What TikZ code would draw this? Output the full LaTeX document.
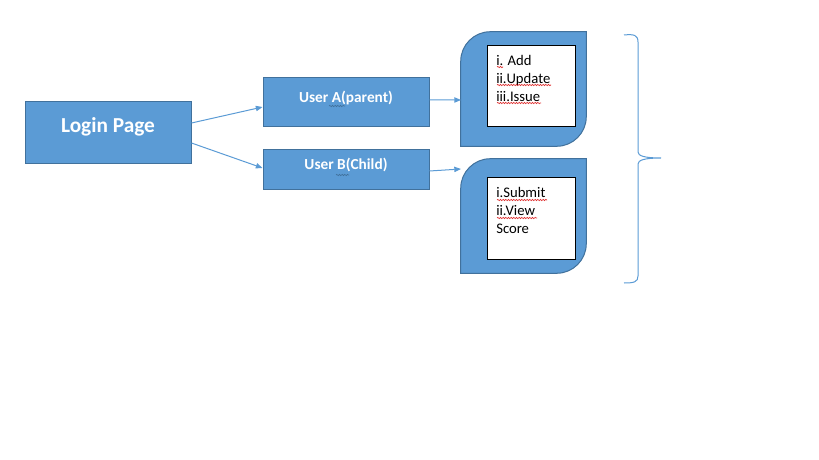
\documentclass[tikz,border=0pt]{standalone}
\usepackage{fontspec}
\setmainfont{Carlito}
\usetikzlibrary{arrows.meta,decorations.pathmorphing}
\definecolor{boxfill}{HTML}{5B9BD5}
\definecolor{boxline}{HTML}{41719C}
\definecolor{squig}{HTML}{E03030}

\begin{document}
\begin{tikzpicture}[x=0.75pt, y=-0.75pt,
  mainbox/.style={draw=boxline, fill=boxfill, text=white, font=\bfseries, line width=0.75pt,
    inner sep=0pt, text height=6pt, text depth=6pt},
  panel/.style={minimum width=93.75pt, minimum height=85.5pt, inner sep=0pt},
  listbox/.style={draw=black, fill=white, line width=0.75pt, minimum width=66pt, inner sep=0pt},
  listtext/.style={align=left, anchor=north west, inner sep=0pt, font=\fontsize{11pt}{13.5pt}\selectfont},
  link/.style={draw=boxfill, line width=0.75pt, -{Triangle[length=5pt,width=4pt]}},
  squiggle/.style={draw=#1, line width=0.5pt, decorate,
    decoration={snake, segment length=2pt, amplitude=0.5pt}}]
\useasboundingbox (0,0) rectangle (819,460);

% left part
\node[mainbox, minimum width=124.5pt, minimum height=46.5pt, font=\fontsize{16pt}{18pt}\bfseries] (login) at (108,133) {Login Page};
\node[mainbox, minimum width=124.5pt, minimum height=36.75pt, font=\fontsize{11.5pt}{13pt}\bfseries] (usera) at (346,102.5) {User A(parent)};
\node[mainbox, minimum width=124.5pt, minimum height=30pt, font=\fontsize{11.5pt}{13pt}\bfseries] (userb) at (346,170) {User B(Child)};

% right panels
\node[panel] (tasksa) at (523.5,89) {};
\node[panel] (tasksb) at (523.5,216) {};
\foreach \p in {tasksa,tasksb}
  \filldraw[draw=boxline, fill=boxfill, line width=0.75pt]
    (\p.south west) -- ([yshift=-22pt]\p.north west)
    .. controls ([yshift=-10pt]\p.north west) and ([xshift=10pt]\p.north west) .. ([xshift=22pt]\p.north west)
    -- (\p.north east) -- ([yshift=22pt]\p.south east)
    .. controls ([yshift=10pt]\p.south east) and ([xshift=-10pt]\p.south east) .. ([xshift=-22pt]\p.south east) -- cycle;

\node[listbox, minimum height=60.75pt] (lista) at (531,86.5) {};
\node[listbox, minimum height=61.5pt] (listb) at (531,219) {};
\node[listtext] (texta) at (496,55) {i. Add\\ii.Update\\iii.Issue};
\node[listtext] (textb) at (496,187) {i.Submit\\ii.View\\Score};

% spell marks
\draw[squiggle=boxline] (329,106) -- (345,106);
\draw[squiggle=boxline] (336,175) -- (349,175);
\draw[squiggle=squig] (497,67) -- (503,67);
\draw[squiggle=squig] (497,85) -- (551,85);
\draw[squiggle=squig] (497,103) -- (541,103);
\draw[squiggle=squig] (497,200) -- (547,200);
\draw[squiggle=squig] (497,218) -- (537,218);

% connectors
\coordinate (ina) at (461,100);
\coordinate (inb) at (461,169);
\draw[link] ([yshift=7.5pt]login.east) -- ([yshift=-3.4pt]usera.west);
\draw[link] ([yshift=-7.5pt]login.east) -- ([yshift=1.5pt]userb.west);
\draw[link] ([yshift=1.9pt]usera.east) -- (ina);
\draw[link] ([yshift=-0.75pt]userb.east) -- (inb);

% brace
\draw[boxfill, line width=0.75pt] (624,35) .. controls (634,34) and (638,35) .. (638,42)
  -- (638,152) .. controls (638,156) and (645,158) .. (661,158)
  .. controls (645,158) and (638,160) .. (638,164)
  -- (638,276) .. controls (638,282) and (634,283) .. (624,283);
\end{tikzpicture}
\end{document}
